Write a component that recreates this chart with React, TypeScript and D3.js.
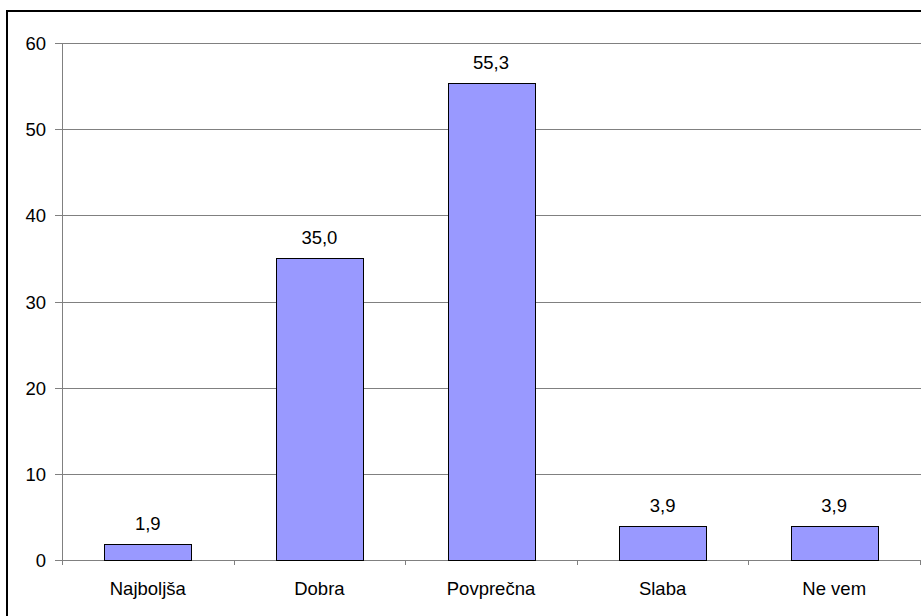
import * as React from "react"
import * as d3 from "d3"

const categories = ["Najboljša", "Dobra", "Povprečna", "Slaba", "Ne vem"]
const values = [1.9, 35.0, 55.3, 3.9, 3.9]
const yTicks = [0, 10, 20, 30, 40, 50, 60]

const width = 921
const height = 616
const margin = { top: 43, right: 1, bottom: 56, left: 62 }

export default function App() {
  const plotW = width - margin.left - margin.right
  const plotH = height - margin.top - margin.bottom

  const x = d3.scaleBand<string>().domain(categories).range([0, plotW]).paddingInner(0.495).paddingOuter(0.2475)
  const y = d3.scaleLinear().domain([0, 60]).range([plotH, 0])
  const fmt = (v: number) => v.toFixed(1).replace(".", ",")

  // tick boundaries between categories
  const step = plotW / categories.length
  const boundaries = d3.range(categories.length + 1).map((i) => i * step)

  const font = "'Liberation Sans', Arial, sans-serif"
  const fs = 18.5

  return (
    <svg width={width} height={height} style={{ position: "absolute", left: 0, top: 0, background: "#fff" }}>
      {/* outer frame */}
      <rect x={7} y={11} width={width} height={height} fill="none" stroke="#000" strokeWidth={2} />
      <g transform={`translate(${margin.left},${margin.top})`}>
        {/* gridlines */}
        {yTicks.map((t) => (
          <line key={t} x1={0} x2={plotW + 2} y1={Math.round(y(t)) + 0.5} y2={Math.round(y(t)) + 0.5} stroke="#808080" strokeWidth={1} />
        ))}
        {/* y axis */}
        <line x1={0.5} x2={0.5} y1={0} y2={plotH + 5} stroke="#808080" />
        {yTicks.map((t) => (
          <g key={t} transform={`translate(0,${Math.round(y(t)) + 0.5})`}>
            <line x1={-7} x2={0} stroke="#808080" />
            <text x={-16} dy="0.35em" textAnchor="end" fontFamily={font} fontSize={fs} fill="#000">
              {t}
            </text>
          </g>
        ))}
        {/* x ticks */}
        {boundaries.map((b, i) => (
          <line key={i} x1={Math.round(b) + 0.5} x2={Math.round(b) + 0.5} y1={plotH} y2={plotH + 5} stroke="#808080" />
        ))}
        {/* bars */}
        {categories.map((c, i) => (
          <g key={c}>
            <rect
              x={Math.round(x(c)!) + 0.5}
              y={Math.round(y(values[i])) + 0.5}
              width={Math.round(x.bandwidth())}
              height={Math.round(plotH - y(values[i]))}
              fill="#9999FF"
              stroke="#000"
              strokeWidth={1}
            />
            <text
              x={x(c)! + x.bandwidth() / 2}
              y={y(values[i]) - 14}
              textAnchor="middle"
              fontFamily={font}
              fontSize={fs}
              fill="#000"
            >
              {fmt(values[i])}
            </text>
            <text
              x={x(c)! + x.bandwidth() / 2}
              y={plotH + 35}
              textAnchor="middle"
              fontFamily={font}
              fontSize={fs}
              fill="#000"
            >
              {c}
            </text>
          </g>
        ))}
      </g>
    </svg>
  )
}
